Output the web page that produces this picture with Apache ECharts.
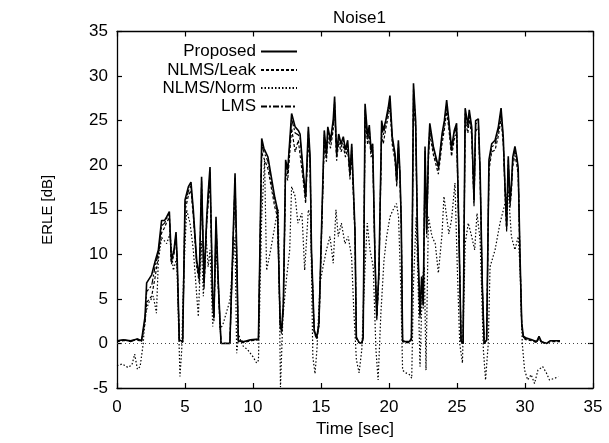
<!DOCTYPE html>
<html>
<head>
<meta charset="utf-8">
<script src="https://cdn.jsdelivr.net/npm/echarts@6/dist/echarts.min.js"></script>
<style>
html,body{margin:0;padding:0;background:#fff;}
#chart{width:609px;height:443px;}
</style>
</head>
<body>
<div id="chart"></div>
<script>
// ---- data ----
const timeP = [0,0.5,1.0,1.5,1.8,1.93,2.06,2.18,2.55,2.8,3.04,3.28,3.5,3.65,3.85,4.0,4.19,4.34,4.43,4.58,4.83,5.0,5.25,5.44,5.61,5.86,6.05,6.22,6.4,6.6,6.7,6.84,7.03,7.13,7.28,7.45,7.65,7.8,8.3,8.68,8.8,8.92,9.3,9.8,10.4,10.5,10.64,10.8,11.1,11.6,11.8,12.0,12.1,12.23,12.4,12.55,12.84,13.1,13.33,13.46,13.7,13.87,14.07,14.2,14.3,14.5,14.68,14.85,15.05,15.24,15.4,15.5,15.7,15.9,16.0,16.15,16.3,16.47,16.64,16.8,16.96,17.13,17.26,17.5,17.6,17.8,18.0,18.1,18.24,18.43,18.55,18.68,18.8,18.97,19.1,19.26,19.46,19.58,19.76,19.95,20.07,20.24,20.44,20.57,20.69,20.8,20.9,21.0,21.2,21.5,21.65,21.8,21.96,22.1,22.28,22.4,22.52,22.65,22.77,22.9,23.0,23.26,23.63,23.9,24.07,24.24,24.4,24.6,24.8,24.97,25.15,25.3,25.45,25.6,25.8,25.9,26.08,26.25,26.37,26.57,26.7,26.86,27.0,27.18,27.35,27.55,27.8,28.04,28.24,28.4,28.53,28.65,28.77,28.9,29.0,29.1,29.26,29.4,29.5,29.63,29.76,29.88,30.1,30.5,30.86,31.03,31.2,31.6,31.84,32.57];
const proposed = [0.3,0.4,0.3,0.5,0.3,0.4,3.0,6.8,7.7,9.2,10.5,13.8,13.8,14.2,14.8,9.3,10.5,12.5,9.3,0.4,0.2,16.1,17.6,18.1,15.0,9.3,7.5,18.7,6.8,14.2,16.8,19.8,5.2,3.0,14.2,6.8,0.0,0.0,0.0,19.1,10.5,0.3,0.2,0.4,0.5,0.3,23.0,21.9,20.9,16.4,15.0,2.3,1.5,4.4,20.6,19.4,25.8,24.3,23.9,23.5,19.1,16.5,24.3,20.9,10.5,1.5,0.6,2.3,13.5,23.9,21.3,24.3,22.8,25.1,27.7,21.3,23.5,22.4,23.2,21.7,22.8,19.1,22.4,12.7,0.7,0.1,0.0,0.7,26.9,23.2,24.5,21.7,22.4,9.7,3.0,8.2,25.0,23.9,25.0,26.5,27.8,23.2,21.3,18.3,22.8,19.4,13.8,0.3,0.2,0.2,0.6,29.2,25.0,12.0,3.3,7.5,4.5,22.1,12.7,21.7,24.7,22.1,19.8,23.5,25.0,27.3,25.0,21.9,23.9,24.7,12.0,0.3,0.0,26.4,24.5,26.2,24.3,16.1,25.0,25.2,19.4,6.7,0.0,0.4,20.6,22.4,22.8,24.3,26.4,23.2,17.6,13.1,21.0,15.9,17.8,20.9,22.1,20.9,19.7,10.1,2.3,0.8,0.6,0.4,0.2,0.8,0.2,0.0,0.3,0.3];
const nlmsLeak = [0.2,0.3,0.3,0.4,0.2,0.3,2.2,4.6,5.3,7.4,9.8,12.4,13.0,13.6,14.1,8.9,10.0,11.7,8.8,0.3,0.1,14.9,16.6,17.2,14.3,8.6,6.8,17.5,6.1,13.4,15.6,18.4,4.6,2.5,13.1,6.0,0.0,0.0,0.0,17.8,9.6,0.2,0.1,0.3,0.4,0.2,21.4,20.8,19.6,15.3,14.2,1.8,1.1,3.6,19.2,18.3,24.1,21.5,22.8,22.6,18.2,15.7,23.0,19.8,9.9,1.2,0.5,1.9,12.6,22.6,20.4,23.1,21.9,24.0,26.2,20.5,22.6,21.5,22.1,20.9,21.8,18.4,21.3,12.0,0.5,0.1,0.0,0.5,25.4,22.3,23.4,20.9,21.5,9.0,2.6,7.5,23.4,22.4,24.1,25.5,26.6,22.3,20.5,17.6,21.7,18.7,13.1,0.2,0.1,0.1,0.4,27.6,23.9,11.2,2.8,6.8,3.9,20.8,11.9,20.6,23.5,21.2,19.0,22.4,24.0,26.0,24.1,21.0,22.9,23.6,11.2,0.2,0.0,25.0,23.6,25.1,23.4,15.4,23.8,24.3,18.6,6.1,0.0,0.3,19.4,21.5,21.7,23.3,25.2,22.4,16.9,12.5,20.0,15.2,17.0,19.9,21.1,20.0,18.9,9.5,1.9,0.6,0.4,0.3,0.1,0.6,0.1,0.0,0.2,0.2];
const lms = [0.3,0.4,0.2,0.5,0.3,0.3,2.6,5.8,6.5,8.6,10.2,13.2,13.5,14.0,14.6,9.1,10.3,12.2,9.0,0.3,0.2,15.6,17.1,17.8,14.7,9.0,7.2,18.2,6.5,13.9,16.3,19.2,5.0,2.8,13.8,6.5,0.0,0.0,0.0,18.6,10.1,0.3,0.2,0.3,0.5,0.3,22.3,21.5,20.4,16.0,14.7,2.1,1.3,4.1,20.0,19.0,25.2,23.6,23.4,23.1,18.8,16.2,23.8,20.5,10.2,1.4,0.6,2.1,13.1,23.4,21.0,23.8,22.5,24.7,27.1,21.0,23.2,22.0,22.8,21.4,22.4,18.9,22.0,12.4,0.6,0.1,0.0,0.6,26.3,22.9,24.1,21.4,22.0,9.4,2.8,7.9,24.5,23.4,24.7,26.1,27.3,22.9,21.0,18.0,22.4,19.1,13.5,0.3,0.2,0.2,0.5,28.6,24.6,11.7,3.1,7.2,4.3,21.6,12.4,21.3,24.2,21.8,19.5,23.1,24.6,26.8,24.7,21.6,23.5,24.3,11.7,0.3,0.0,25.9,24.2,25.8,24.0,15.8,24.6,24.9,19.1,6.5,0.0,0.4,20.1,22.0,22.4,23.9,26.0,22.9,17.3,12.9,20.6,15.6,17.5,20.5,21.7,20.6,19.4,9.8,2.1,0.7,0.5,0.4,0.2,0.7,0.2,0.0,0.3,0.3];
const timeN = [0,0.4,0.8,1.1,1.3,1.5,1.7,1.93,2.06,2.3,2.67,2.9,3.04,3.28,3.65,3.9,4.14,4.39,4.63,4.76,4.88,5.12,5.37,5.61,5.98,6.2,6.35,6.54,6.7,6.84,7.04,7.28,7.45,7.57,7.8,8.3,8.68,8.8,8.95,9.2,9.6,10.0,10.27,10.4,10.64,10.85,11.0,11.3,11.7,11.86,12.02,12.2,12.47,12.7,12.84,13.1,13.3,13.6,13.8,14.07,14.24,14.4,14.56,14.7,14.93,15.1,15.4,15.66,15.9,16.1,16.27,16.5,16.76,17.0,17.25,17.4,17.6,17.8,18.0,18.24,18.4,18.6,18.84,19.04,19.2,19.4,19.63,19.83,20.07,20.3,20.55,20.7,20.86,21.0,21.24,21.5,21.67,21.8,22.0,22.15,22.28,22.47,22.6,22.72,22.9,23.16,23.4,23.63,23.9,24.04,24.24,24.4,24.6,24.85,25.02,25.2,25.4,25.6,25.83,26.08,26.3,26.47,26.7,26.94,27.1,27.3,27.43,27.8,28.16,28.53,28.77,29.0,29.26,29.5,29.63,29.8,29.97,30.2,30.45,30.7,30.95,31.3,31.57,31.8,32.2,32.45];
const nlmsNorm = [-2.5,-2.3,-2.7,-2.4,-1.2,-2.9,-2.6,0.0,3.0,4.5,5.3,3.4,9.3,11.9,11.2,12.3,8.2,9.6,-3.7,-0.7,6.8,15.0,13.5,10.5,3.0,11.5,5.3,12.3,8.6,10.5,1.9,10.5,6.8,1.5,2.2,4.8,11.9,-1.1,1.0,-0.2,-0.7,-1.5,-2.2,-1.9,14.2,20.5,8.2,10.5,14.0,15.0,-4.9,3.0,7.4,10.5,17.6,16.5,13.5,14.6,8.2,15.0,14.2,-1.5,-3.4,-0.7,6.7,8.2,10.5,12.0,9.0,15.0,12.0,13.5,11.2,12.0,9.7,4.1,-1.8,-3.3,-0.7,8.6,13.5,10.5,8.6,-0.7,-4.1,3.3,9.3,12.0,14.2,15.0,15.7,14.2,6.7,-3.0,-3.3,-3.5,-3.9,6.7,14.2,6.0,-2.6,7.5,8.6,-3.0,14.2,12.0,11.2,7.9,12.3,16.5,14.2,12.3,13.9,18.0,8.6,0.0,-2.2,11.2,13.5,12.0,10.5,14.6,11.6,-0.7,-4.1,0.0,8.6,10.5,13.5,15.7,17.2,12.0,10.5,12.0,8.6,0.0,-3.0,-4.1,-3.5,-4.5,-3.0,-2.6,-3.3,-4.1,-3.9,-3.7];
const seriesNames = ['Proposed','NLMS/Leak','NLMS/Norm','LMS'];
const xTicks = {min:0, max:35, step:5};
const yTicks = {min:-5, max:35, step:5};

const pairs = (ts, vs) => ts.map((t, i) => [t, vs[i]]);
const FONT = 'Liberation Sans, Arial, Helvetica, sans-serif';

const chart = echarts.init(document.getElementById('chart'), null, {renderer:'canvas'});

const axisCommon = {
  axisLine:{show:true, onZero:false, lineStyle:{color:'#000', width:1.3}},
  axisTick:{show:true, inside:true, length:5, lineStyle:{color:'#000', width:1.2}},
  splitLine:{show:false}
};

const legendItem = (name, top) => ({
  data:[name], orient:'vertical', align:'right', right:311, top:top,
  itemWidth:36, itemHeight:10, padding:0, selectedMode:false,
  itemStyle:{opacity:0},
  textStyle:{fontSize:17, color:'#000', fontFamily:FONT}
});

chart.setOption({
  animation:false,
  backgroundColor:'#fff',
  color:['#000','#000','#000','#000'],
  title:{text:'Noise1', left:328, top:5,
    textStyle:{fontSize:17, fontWeight:'normal', color:'#000', fontFamily:FONT}},
  grid:{left:117, right:16, top:31.5, bottom:55},
  legend:[
    legendItem(seriesNames[0], 43),
    legendItem(seriesNames[1], 61.5),
    legendItem(seriesNames[2], 79.5),
    legendItem(seriesNames[3], 98)
  ],
  xAxis:[
    Object.assign({type:'value', min:xTicks.min, max:xTicks.max, interval:xTicks.step,
      name:'Time [sec]', nameLocation:'middle', nameGap:27,
      nameTextStyle:{fontSize:17, color:'#000', fontFamily:FONT},
      axisLabel:{fontSize:17, color:'#000', margin:11, fontFamily:FONT}}, axisCommon),
    Object.assign({type:'value', position:'top', min:xTicks.min, max:xTicks.max, interval:xTicks.step,
      axisLabel:{show:false}}, axisCommon)
  ],
  yAxis:[
    Object.assign({type:'value', min:yTicks.min, max:yTicks.max, interval:yTicks.step,
      name:'ERLE [dB]', nameLocation:'middle', nameGap:62, nameRotate:90,
      nameTextStyle:{fontSize:15, color:'#000', fontFamily:FONT},
      axisLabel:{fontSize:17, color:'#000', margin:9, fontFamily:FONT}}, axisCommon),
    Object.assign({type:'value', position:'right', min:yTicks.min, max:yTicks.max, interval:yTicks.step,
      axisLabel:{show:false}}, axisCommon)
  ],
  series:[
    {name:seriesNames[2], type:'line', data:pairs(timeN, nlmsNorm), symbol:'none',
      itemStyle:{color:'#000'},
      lineStyle:{color:'#000', width:1.2, type:[1.5,2]},
      markLine:{silent:true, symbol:'none', label:{show:false},
        lineStyle:{color:'#444', width:1, type:[1,3]}, data:[{yAxis:0}]}},
    {name:seriesNames[1], type:'line', data:pairs(timeP, nlmsLeak), symbol:'none',
      itemStyle:{color:'#000'},
      lineStyle:{color:'#000', width:1.2, type:[3,2]}},
    {name:seriesNames[3], type:'line', data:pairs(timeP, lms), symbol:'none',
      itemStyle:{color:'#000'},
      lineStyle:{color:'#000', width:1.2, type:[6,2,2,2]}},
    {name:seriesNames[0], type:'line', data:pairs(timeP, proposed), symbol:'none',
      itemStyle:{color:'#000'},
      lineStyle:{color:'#000', width:1.6, type:'solid'}}
  ]
});
</script>
</body>
</html>
